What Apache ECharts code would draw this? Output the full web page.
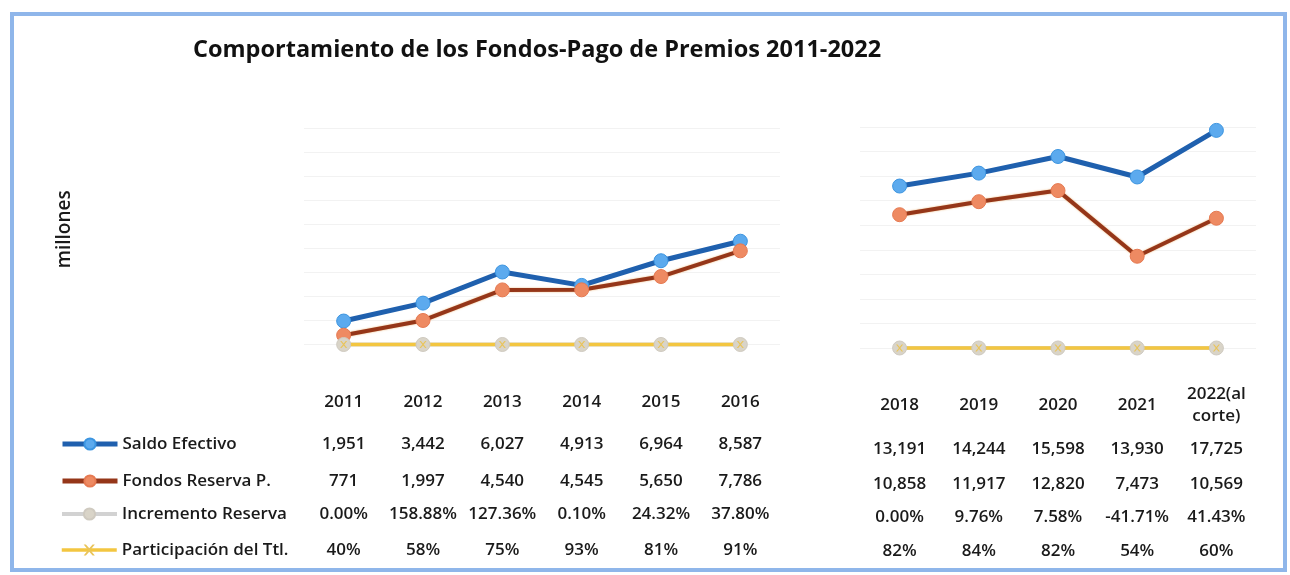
<!DOCTYPE html>
<html>
<head>
<meta charset="utf-8">
<script src="https://cdn.jsdelivr.net/npm/echarts@6/dist/echarts.min.js"></script>
<style>
  html, body { margin: 0; padding: 0; background: #fff; }
  #chart { width: 1290px; height: 575px; }
</style>
</head>
<body>
<div id="chart"></div>
<script>
// two blocks of years (2017 is not in the report)
const yearsA = ['2011', '2012', '2013', '2014', '2015', '2016'];
const yearsB = ['2018', '2019', '2020', '2021', '2022(al\ncorte)'];

// millones
const saldoA = [1951, 3442, 6027, 4913, 6964, 8587];
const saldoB = [13191, 14244, 15598, 13930, 17725];
const fondosA = [771, 1997, 4540, 4545, 5650, 7786];
const fondosB = [10858, 11917, 12820, 7473, 10569];

// percent
const incrementoA = [0.00, 158.88, 127.36, 0.10, 24.32, 37.80];
const incrementoB = [0.00, 9.76, 7.58, -41.71, 41.43];
const participacionA = [40, 58, 75, 93, 81, 91];
const participacionB = [82, 84, 82, 54, 60];

const names = ['Saldo Efectivo', 'Fondos Reserva P.', 'Incremento Reserva', 'Participación del Ttl.'];

const FONT = 'Open Sans';
const fmtNum = (v) => v.toLocaleString('en-US');
const fmtPct2 = (v) => v.toFixed(2) + '%';
const fmtPct0 = (v) => v + '%';
const frac = (arr) => arr.map((v) => v / 100);

const xMark = 'path://M0,0 L2,0 L5,3.5 L8,0 L10,0 L6,5 L10,10 L8,10 L5,6.5 L2,10 L0,10 L4,5 Z';

const chart = echarts.init(document.getElementById('chart'), null, { renderer: 'canvas' });

const grids = [
  { left: 304, width: 476, top: 128, height: 216.5 },
  { left: 860, width: 396, top: 127, height: 221 },
];

// table rows: offsets below the zero line of each block
const rowOffsets = [
  [57.5, 100, 137, 170, 206],
  [57.5, 101.5, 136.5, 169.5, 203.5],
];

function tableAxes(gi, years, saldo, fondos, incr, part) {
  const rows = [years, saldo.map(fmtNum), fondos.map(fmtNum), incr.map(fmtPct2), part.map(fmtPct0)];
  return rows.map((data, r) => ({
    type: 'category',
    gridIndex: gi,
    position: 'bottom',
    offset: rowOffsets[gi][r],
    data,
    boundaryGap: true,
    axisLine: { show: false },
    axisTick: { show: false },
    splitLine: { show: false },
    axisLabel: {
      interval: 0,
      margin: 0,
      verticalAlign: 'middle',
      fontFamily: FONT,
      fontSize: 17,
      fontWeight: 600,
      lineHeight: 22,
      color: '#1a1a1a',
    },
  }));
}

const xAxes = [
  ...tableAxes(0, yearsA, saldoA, fondosA, incrementoA, participacionA),
  ...tableAxes(1, yearsB, saldoB, fondosB, incrementoB, participacionB),
];

const yAxisBase = {
  type: 'value',
  min: 0,
  max: 18000,
  interval: 2000,
  axisLine: { show: false },
  axisTick: { show: false },
  axisLabel: { show: false },
  splitLine: { lineStyle: { color: '#f2f2f2', width: 1 } },
};

const yAxes = [
  {
    ...yAxisBase,
    gridIndex: 0,
    name: 'millones',
    nameLocation: 'middle',
    nameRotate: 90,
    nameGap: 230,
    nameTextStyle: { fontFamily: FONT, fontSize: 19, fontWeight: 600, color: '#1a1a1a', padding: [0, 0, 0, 14] },
  },
  { ...yAxisBase, gridIndex: 1 },
];

const styles = [
  {
    lineStyle: { color: '#1f60ae', width: 5 },
    itemStyle: { color: '#5caaee', borderColor: '#3d95e0', borderWidth: 1 },
    symbol: 'circle', symbolSize: 14,
  },
  {
    lineStyle: { color: '#953619', width: 4, shadowColor: 'rgba(230,150,60,0.7)', shadowBlur: 2 },
    itemStyle: { color: '#ee8a62', borderColor: '#e67a52', borderWidth: 1 },
    symbol: 'circle', symbolSize: 14,
  },
  {
    lineStyle: { color: '#d2d2d2', width: 4 },
    itemStyle: { color: '#d9d4c8', borderColor: '#cfcac0', borderWidth: 1 },
    symbol: 'circle', symbolSize: 14,
  },
  {
    lineStyle: { color: '#f3c640', width: 3.5 },
    itemStyle: { color: '#e9c45a' },
    symbol: xMark, symbolSize: 7,
  },
];

function makeSeries(gi, axisIdx, dataSets) {
  return dataSets.map((data, i) => ({
    name: names[i],
    type: 'line',
    xAxisIndex: axisIdx,
    yAxisIndex: gi,
    data,
    clip: false,
    showSymbol: true,
    ...styles[i],
  }));
}

const series = [
  ...makeSeries(0, 0, [saldoA, fondosA, frac(incrementoA), frac(participacionA)]),
  ...makeSeries(1, 5, [saldoB, fondosB, frac(incrementoB), frac(participacionB)]),
];

const legendRows = [443, 480, 513, 549];
const legendLine = [5, 5, 4, 3.5];
const legends = names.map((n, i) => ({
  data: [n],
  left: 60,
  top: legendRows[i] - 9,
  padding: 0,
  itemWidth: 55,
  itemHeight: 14,
  itemGap: 4,
  selectedMode: false,
  lineStyle: { width: legendLine[i] },
  textStyle: { fontFamily: FONT, fontSize: 17, fontWeight: 600, lineHeight: 20, color: '#1a1a1a' },
}));

chart.setOption({
  animation: false,
  backgroundColor: '#fff',
  title: {
    text: 'Comportamiento de los Fondos-Pago de Premios 2011-2022',
    left: 188,
    top: 33,
    textStyle: { fontFamily: FONT, fontSize: 23.5, fontWeight: 'bold', color: '#111' },
  },
  graphic: [{
    type: 'rect',
    shape: { x: 12, y: 14, width: 1273, height: 556 },
    style: { fill: 'none', stroke: '#8fb6ea', lineWidth: 4 },
    silent: true,
  }],
  legend: legends,
  grid: grids,
  xAxis: xAxes,
  yAxis: yAxes,
  series,
});
</script>
</body>
</html>
